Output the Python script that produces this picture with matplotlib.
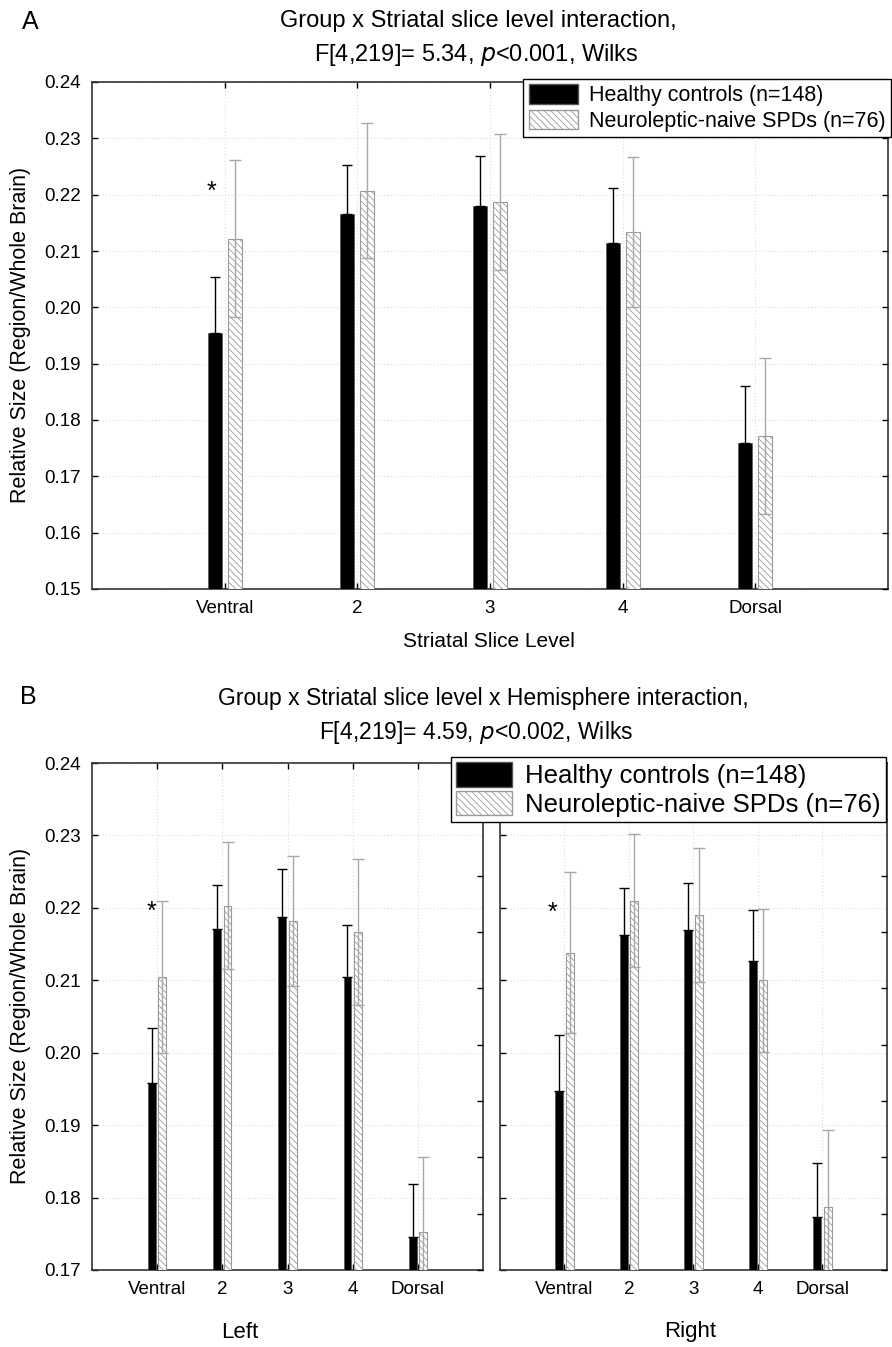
# -*- coding: utf-8 -*-
import numpy as np
import matplotlib as mpl
mpl.use("Agg")
import matplotlib.pyplot as plt
from matplotlib.patches import Patch

plt.rcParams['font.family'] = ['Liberation Sans', 'DejaVu Sans']
plt.rcParams['hatch.linewidth'] = 0.6

# 数据
levels = ['Ventral', '2', '3', '4', 'Dorsal']

# panel A
a_hc_mean = [0.1955, 0.2166, 0.2180, 0.2115, 0.1760]
a_hc_sd = [0.0098, 0.0086, 0.0088, 0.0097, 0.0100]
a_spd_mean = [0.2122, 0.2207, 0.2187, 0.2134, 0.1772]
a_spd_sd = [0.0140, 0.0120, 0.0121, 0.0133, 0.0138]

# panel B, left hemisphere
bl_hc_mean = [0.1958, 0.2171, 0.2187, 0.2105, 0.1745]
bl_hc_sd = [0.0076, 0.0060, 0.0067, 0.0071, 0.0074]
bl_spd_mean = [0.2104, 0.2203, 0.2182, 0.2167, 0.1752]
bl_spd_sd = [0.0105, 0.0088, 0.0090, 0.0101, 0.0104]

# panel B, right hemisphere
br_hc_mean = [0.1947, 0.2162, 0.2169, 0.2126, 0.1773]
br_hc_sd = [0.0078, 0.0065, 0.0065, 0.0071, 0.0075]
br_spd_mean = [0.2138, 0.2210, 0.2190, 0.2100, 0.1787]
br_spd_sd = [0.0111, 0.0092, 0.0093, 0.0099, 0.0106]

hc_label = 'Healthy controls (n=148)'
spd_label = 'Neuroleptic-naive SPDs (n=76)'

W, H = 892, 1347
HATCH_EC = '#9a9a9a'
ERR_SPD = '#a8a8a8'


def fx(px):
    return px / W


def fy(py):
    return 1 - py / H


def add_axes(x0, x1, y0, y1):
    return fig.add_axes([fx(x0), fy(y1), fx(x1 - x0), (y1 - y0) / H])


def draw_panel(ax, hc_m, hc_s, spd_m, spd_s, ylim, yticks, width, off,
               fs_tick, left_labels=True, right_ticks=True):
    x = np.arange(len(levels))
    ax.bar(x - off, hc_m, width, color='black', edgecolor='#555555',
           linewidth=0.5, zorder=3)
    ax.bar(x + off, spd_m, width, color='white', edgecolor=HATCH_EC,
           hatch='\\\\\\\\\\', linewidth=0.8, zorder=3)
    # 黑柱下半部分误差线被柱子遮住，只画上半部分
    ax.errorbar(x - off, hc_m, yerr=[np.zeros(len(hc_s)), hc_s], fmt='none',
                ecolor='black', elinewidth=1.0, capsize=3.5, capthick=1.0,
                zorder=4)
    ax.errorbar(x + off, spd_m, yerr=spd_s, fmt='none', ecolor=ERR_SPD,
                elinewidth=1.0, capsize=4.5, capthick=1.0, zorder=4)

    ax.set_xlim(-1, len(levels))
    ax.set_ylim(*ylim)
    ax.set_xticks(x)
    ax.set_xticklabels(levels, fontsize=fs_tick)
    ax.set_yticks(yticks)
    if left_labels:
        ax.set_yticklabels(['%.2f' % v for v in yticks], fontsize=fs_tick)
    else:
        ax.set_yticklabels([])
    ax.tick_params(axis='both', direction='in', length=4, width=1,
                   top=True, bottom=True, left=True, right=False, pad=8,
                   colors='black')
    ax.grid(True, color='#e2e2e2', linestyle=':', linewidth=0.9, zorder=0)
    ax.set_axisbelow(True)
    for s in ax.spines.values():
        s.set_color('#333333')
        s.set_linewidth(1.2)
    if right_ticks:
        ax2 = ax.twinx()
        ax2.set_ylim(*ylim)
        ax2.set_yticks(np.linspace(ylim[0], ylim[1], 10))
        ax2.set_yticklabels([])
        ax2.tick_params(axis='y', direction='in', length=4, width=1)
        for s in ax2.spines.values():
            s.set_visible(False)


fig = plt.figure(figsize=(W / 100., H / 100.), dpi=100)

# ---------------- panel A ----------------
axA = add_axes(92, 888, 82, 589)
draw_panel(axA, a_hc_mean, a_hc_sd, a_spd_mean, a_spd_sd,
           (0.15, 0.24), np.arange(0.15, 0.2401, 0.01), 0.105, 0.075, 13.5)
axA.text(-0.1, 0.2205, '*', fontsize=18, ha='center', va='center')
fig.text(fx(30), fy(22), 'A', fontsize=18, ha='center', va='center')
fig.text(fx(478), fy(21), 'Group x Striatal slice level interaction,',
         fontsize=17, ha='center', va='center')
fig.text(fx(476), fy(55), 'F[4,219]= 5.34, $\\it{p}$<0.001, Wilks',
         fontsize=17, ha='center', va='center')
fig.text(fx(21), fy(335), 'Relative Size (Region/Whole Brain)', fontsize=15.5,
         rotation=90, ha='center', va='center')
fig.text(fx(489), fy(641), 'Striatal Slice Level', fontsize=15,
         ha='center', va='center')

handles = [Patch(facecolor='black', edgecolor='#555555', label=hc_label),
           Patch(facecolor='white', edgecolor=HATCH_EC, hatch='\\\\\\\\\\',
                 label=spd_label)]
legA = fig.legend(handles=handles, loc='upper right',
                  bbox_to_anchor=(fx(891), fy(79)), fontsize=15.5,
                  frameon=True, fancybox=False, framealpha=1,
                  edgecolor='black', borderpad=0.25, labelspacing=0.15,
                  handlelength=2.3, handleheight=1.0, handletextpad=0.5,
                  borderaxespad=0)
legA.get_frame().set_linewidth(1.0)

# ---------------- panel B ----------------
ylimB = (0.17, 0.24)
yticksB = np.arange(0.17, 0.2401, 0.01)
axBL = add_axes(92, 483, 763, 1270)
draw_panel(axBL, bl_hc_mean, bl_hc_sd, bl_spd_mean, bl_spd_sd,
           ylimB, yticksB, 0.12, 0.08, 13.5)
axBL.text(-0.08, 0.2194, '*', fontsize=18, ha='center', va='center')

axBR = add_axes(500, 887, 763, 1270)
draw_panel(axBR, br_hc_mean, br_hc_sd, br_spd_mean, br_spd_sd,
           ylimB, yticksB, 0.12, 0.08, 13.5, left_labels=False)
axBR.text(-0.18, 0.2193, '*', fontsize=18, ha='center', va='center')

fig.text(fx(28), fy(697), 'B', fontsize=18, ha='center', va='center')
fig.text(fx(483), fy(699),
         'Group x Striatal slice level x Hemisphere interaction,',
         fontsize=16.5, ha='center', va='center')
fig.text(fx(476), fy(732), 'F[4,219]= 4.59, $\\it{p}$<0.002, Wilks',
         fontsize=16.5, ha='center', va='center')
fig.text(fx(21), fy(1016), 'Relative Size (Region/Whole Brain)',
         fontsize=15.5, rotation=90, ha='center', va='center')
fig.text(fx(240), fy(1332), 'Left', fontsize=16, ha='center', va='center')
fig.text(fx(690), fy(1332), 'Right', fontsize=16, ha='center', va='center')

legB = fig.legend(handles=handles, loc='upper right',
                  bbox_to_anchor=(fx(886), fy(757)), fontsize=18.5,
                  frameon=True, fancybox=False, framealpha=1,
                  edgecolor='black', borderpad=0.2, labelspacing=0.1,
                  handlelength=2.2, handleheight=1.1, handletextpad=0.5,
                  borderaxespad=0)
legB.get_frame().set_linewidth(1.0)

fig.savefig('out.png', dpi=100)
plt.close()
